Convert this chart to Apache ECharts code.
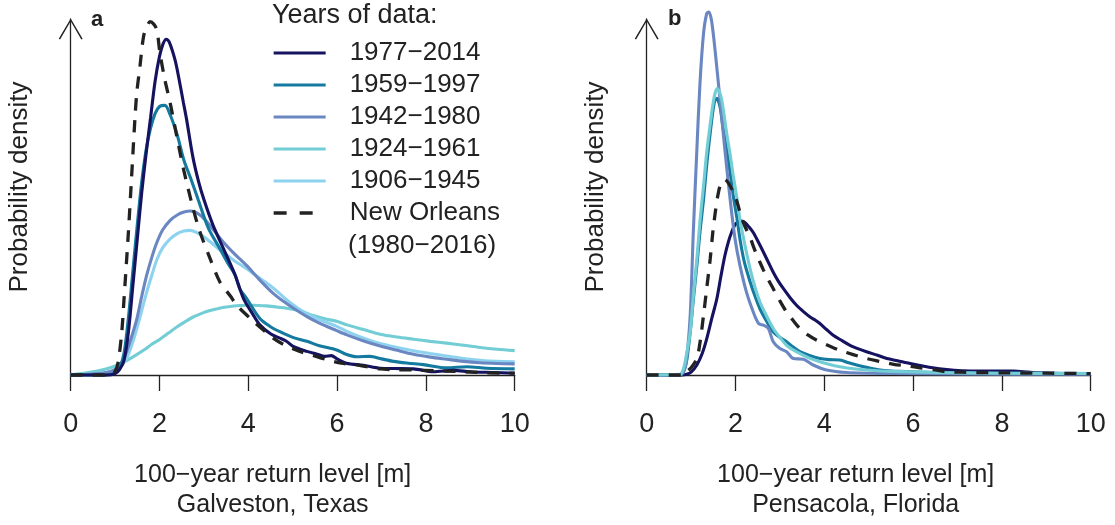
<!DOCTYPE html>
<html>
<head>
<meta charset="utf-8">
<script src="https://cdn.jsdelivr.net/npm/echarts@6/dist/echarts.min.js"></script>
<style>html,body{margin:0;padding:0;background:#fff}#chart{width:1115px;height:525px}</style>
</head>
<body>
<div id="chart"></div>
<script>
// ---- labels ----
const legendNames = ['1977\u22122014', '1959\u22121997', '1942\u22121980', '1924\u22121961', '1906\u22121945', 'New Orleans'];
const legendTitle = 'Years of data:';
const newOrleansYears = '(1980\u22122016)';
const panelLabels = ['a', 'b'];
const xTitles = ['100\u2212year return level [m]\nGalveston, Texas', '100\u2212year return level [m]\nPensacola, Florida'];
const yTitle = 'Probability density';
const xTicks = [0, 2, 4, 6, 8, 10];

// ---- Panel a: Galveston, Texas  [return level (m), density] ----
const galv_1977_2014 = [[0,0],[0.8,0],[1.0,0.004],[1.1,0.015],[1.2,0.04],[1.3,0.12],[1.4,0.25],[1.5,0.38],[1.6,0.51],[1.7,0.62],[1.8,0.72],[1.9,0.82],[2.0,0.89],[2.08,0.925],[2.15,0.938],[2.22,0.93],[2.35,0.88],[2.45,0.82],[2.54,0.76],[2.61,0.714],[2.75,0.61],[2.88,0.54],[3.0,0.49],[3.2,0.42],[3.44,0.353],[3.7,0.28],[3.89,0.214],[4.1,0.17],[4.26,0.14],[4.5,0.115],[4.71,0.103],[4.85,0.095],[5.01,0.08],[5.32,0.066],[5.55,0.058],[5.72,0.052],[5.87,0.054],[6.0,0.045],[6.21,0.033],[6.59,0.027],[6.97,0.019],[7.3,0.018],[7.72,0.017],[8.17,0.009],[8.62,0.013],[9.0,0.009],[9.5,0.007],[10,0.005]];
const galv_1959_1997 = [[0,0],[0.8,0],[1.0,0.006],[1.1,0.02],[1.2,0.06],[1.3,0.16],[1.4,0.29],[1.5,0.42],[1.6,0.54],[1.7,0.63],[1.8,0.69],[1.9,0.73],[2.0,0.75],[2.12,0.753],[2.24,0.727],[2.4,0.67],[2.55,0.6],[2.7,0.55],[2.87,0.49],[3.1,0.41],[3.36,0.353],[3.55,0.31],[3.7,0.28],[3.81,0.24],[3.96,0.214],[4.26,0.158],[4.5,0.135],[4.71,0.121],[5.0,0.105],[5.32,0.094],[5.6,0.082],[5.99,0.07],[6.2,0.058],[6.44,0.051],[6.74,0.052],[7.0,0.045],[7.27,0.038],[7.6,0.033],[7.94,0.029],[8.47,0.02],[8.92,0.023],[9.37,0.019],[10,0.017]];
const galv_1942_1980 = [[0,0],[0.4,0.002],[0.8,0.007],[1.0,0.015],[1.13,0.03],[1.26,0.065],[1.38,0.11],[1.49,0.157],[1.6,0.22],[1.71,0.278],[1.83,0.33],[1.94,0.37],[2.07,0.405],[2.24,0.432],[2.4,0.447],[2.55,0.455],[2.7,0.458],[2.85,0.452],[3.0,0.437],[3.2,0.408],[3.44,0.371],[3.7,0.337],[3.96,0.306],[4.26,0.265],[4.56,0.228],[4.8,0.205],[5.01,0.187],[5.32,0.163],[5.6,0.145],[5.99,0.124],[6.22,0.112],[6.6,0.095],[6.97,0.081],[7.35,0.069],[7.72,0.058],[8.1,0.05],[8.47,0.044],[8.85,0.038],[9.22,0.034],[9.6,0.032],[10,0.031]];
const galv_1924_1961 = [[0,0.001],[0.3,0.005],[0.6,0.011],[0.89,0.02],[1.1,0.03],[1.26,0.04],[1.45,0.054],[1.64,0.069],[1.82,0.085],[2.01,0.1],[2.2,0.117],[2.39,0.134],[2.58,0.149],[2.76,0.162],[2.95,0.172],[3.14,0.18],[3.33,0.186],[3.51,0.19],[3.81,0.194],[4.1,0.195],[4.41,0.193],[4.7,0.189],[4.94,0.185],[5.2,0.178],[5.46,0.166],[5.72,0.157],[5.99,0.15],[6.22,0.14],[6.6,0.127],[6.97,0.114],[7.35,0.106],[7.72,0.1],[8.1,0.094],[8.47,0.089],[8.85,0.083],[9.22,0.077],[9.6,0.072],[10,0.068]];
const galv_1906_1945 = [[0,0],[0.4,0.002],[0.8,0.007],[1.0,0.013],[1.13,0.025],[1.26,0.046],[1.38,0.085],[1.49,0.13],[1.6,0.18],[1.71,0.231],[1.83,0.28],[1.94,0.322],[2.07,0.355],[2.24,0.38],[2.4,0.395],[2.55,0.402],[2.69,0.404],[2.85,0.397],[3.0,0.386],[3.14,0.372],[3.44,0.342],[3.7,0.318],[3.96,0.297],[4.26,0.27],[4.56,0.243],[4.8,0.217],[5.0,0.197],[5.2,0.18],[5.5,0.16],[5.99,0.136],[6.22,0.122],[6.6,0.103],[6.97,0.088],[7.35,0.077],[7.72,0.068],[8.1,0.06],[8.47,0.053],[8.85,0.046],[9.22,0.041],[9.6,0.038],[10,0.037]];
const galv_neworleans = [[0,0],[0.9,0],[1.0,0.01],[1.07,0.037],[1.15,0.12],[1.2,0.21],[1.3,0.4],[1.37,0.55],[1.45,0.723],[1.49,0.79],[1.56,0.862],[1.64,0.945],[1.72,0.975],[1.79,0.987],[1.87,0.98],[1.94,0.964],[2.01,0.9],[2.12,0.825],[2.24,0.76],[2.4,0.66],[2.55,0.57],[2.76,0.464],[2.91,0.4],[3.14,0.325],[3.36,0.26],[3.6,0.22],[3.74,0.195],[4.08,0.154],[4.3,0.13],[4.56,0.103],[4.8,0.085],[5.16,0.066],[5.45,0.055],[5.77,0.043],[6.1,0.033],[6.44,0.028],[6.97,0.017],[7.3,0.015],[7.71,0.014],[8.2,0.012],[8.69,0.01],[9.37,0.006],[10,0.005]];

// ---- Panel b: Pensacola, Florida ----
const pens_1977_2014 = [[0,0],[0.8,0],[0.9,0.002],[1.0,0.008],[1.13,0.028],[1.25,0.06],[1.35,0.1],[1.47,0.16],[1.58,0.213],[1.67,0.275],[1.76,0.333],[1.84,0.372],[1.91,0.398],[1.98,0.418],[2.06,0.428],[2.14,0.43],[2.21,0.426],[2.3,0.414],[2.4,0.398],[2.52,0.37],[2.63,0.343],[2.74,0.315],[2.85,0.287],[2.96,0.263],[3.08,0.241],[3.23,0.216],[3.38,0.194],[3.53,0.177],[3.68,0.162],[3.8,0.153],[3.9,0.144],[4.05,0.127],[4.2,0.111],[4.4,0.096],[4.58,0.083],[4.77,0.073],[4.95,0.065],[5.2,0.055],[5.41,0.046],[5.65,0.04],[5.86,0.034],[6.1,0.028],[6.4,0.021],[6.76,0.015],[7.1,0.012],[7.51,0.011],[7.9,0.011],[8.26,0.011],[8.6,0.008],[8.86,0.006],[9.3,0.004],[10,0.003]];
const pens_1959_1997 = [[0,0],[0.75,0],[0.83,0.009],[0.9,0.04],[0.98,0.12],[1.05,0.21],[1.13,0.306],[1.2,0.4],[1.28,0.49],[1.35,0.585],[1.43,0.676],[1.52,0.76],[1.58,0.773],[1.65,0.75],[1.72,0.69],[1.8,0.63],[1.88,0.565],[1.95,0.5],[2.03,0.44],[2.1,0.38],[2.2,0.315],[2.33,0.26],[2.44,0.22],[2.55,0.185],[2.7,0.15],[2.85,0.12],[3.0,0.105],[3.15,0.093],[3.3,0.078],[3.45,0.065],[3.65,0.055],[3.9,0.046],[4.1,0.043],[4.35,0.042],[4.55,0.034],[4.73,0.028],[5.0,0.02],[5.26,0.014],[5.7,0.01],[6.5,0.007],[8,0.005],[10,0.004]];
const pens_1942_1980 = [[0,0],[0.7,0],[0.79,0.003],[0.85,0.015],[0.9,0.046],[0.98,0.167],[1.05,0.4],[1.13,0.63],[1.2,0.815],[1.28,0.954],[1.35,1.009],[1.4,1.014],[1.46,0.99],[1.54,0.907],[1.65,0.77],[1.76,0.63],[1.88,0.49],[1.99,0.38],[2.1,0.306],[2.25,0.23],[2.4,0.176],[2.52,0.144],[2.63,0.139],[2.74,0.13],[2.85,0.093],[3.0,0.074],[3.15,0.065],[3.3,0.046],[3.53,0.044],[3.75,0.028],[4.05,0.014],[4.5,0.007],[5.5,0.004],[7,0.003],[10,0.002]];
const pens_1924_1961 = [[0,0],[0.75,0.002],[0.83,0.018],[0.9,0.06],[0.98,0.12],[1.05,0.22],[1.13,0.324],[1.2,0.43],[1.28,0.528],[1.35,0.62],[1.43,0.7],[1.49,0.755],[1.54,0.787],[1.59,0.8],[1.64,0.79],[1.69,0.768],[1.75,0.72],[1.8,0.676],[1.88,0.615],[1.95,0.556],[2.03,0.495],[2.1,0.435],[2.2,0.37],[2.33,0.296],[2.44,0.245],[2.55,0.204],[2.7,0.165],[2.85,0.13],[3.0,0.105],[3.15,0.083],[3.3,0.07],[3.45,0.06],[3.65,0.048],[3.9,0.037],[4.1,0.03],[4.35,0.023],[4.6,0.018],[4.95,0.014],[5.5,0.01],[6.5,0.007],[8,0.005],[10,0.004]];
const pens_neworleans = [[0,0],[0.85,0],[0.9,0.009],[1.0,0.02],[1.13,0.046],[1.2,0.09],[1.28,0.167],[1.35,0.24],[1.43,0.324],[1.49,0.4],[1.54,0.45],[1.6,0.5],[1.65,0.528],[1.7,0.54],[1.76,0.546],[1.82,0.54],[1.88,0.528],[1.95,0.51],[2.03,0.485],[2.1,0.455],[2.18,0.425],[2.25,0.405],[2.33,0.385],[2.4,0.36],[2.48,0.335],[2.55,0.315],[2.63,0.293],[2.74,0.266],[2.85,0.241],[3.0,0.207],[3.15,0.176],[3.3,0.152],[3.45,0.13],[3.63,0.112],[3.83,0.097],[4.1,0.082],[4.35,0.069],[4.65,0.057],[4.95,0.046],[5.25,0.038],[5.56,0.03],[5.9,0.025],[6.16,0.02],[6.5,0.014],[6.76,0.009],[7.1,0.008],[7.42,0.007],[8,0.006],[9,0.005],[10,0.004]];

// ---- styling ----
const colors = ['#15125f', '#157a9f', '#6b87c2', '#72cdd5', '#8dd3f0', '#222222'];
const FONT = '"Liberation Sans", Arial, Helvetica, sans-serif';
const INK = '#222222';

function mkSeries(idx, data, gridIdx) {
  const dashed = idx === 5;
  return {
    type: 'line', name: legendNames[idx], data: data,
    xAxisIndex: gridIdx, yAxisIndex: gridIdx,
    symbol: 'none', smooth: 0.3, clip: false, silent: true,
    lineStyle: { color: colors[idx], width: dashed ? 3.3 : 3.1, type: dashed ? [12, 10] : 'solid', cap: 'butt' },
    itemStyle: { color: colors[idx] },
    z: 2 + (dashed ? 5 : 0)
  };
}

const series = [
  mkSeries(3, galv_1924_1961, 0), mkSeries(4, galv_1906_1945, 0), mkSeries(2, galv_1942_1980, 0),
  mkSeries(1, galv_1959_1997, 0), mkSeries(0, galv_1977_2014, 0), mkSeries(5, galv_neworleans, 0),
  mkSeries(0, pens_1977_2014, 1), mkSeries(1, pens_1959_1997, 1), mkSeries(2, pens_1942_1980, 1),
  mkSeries(3, pens_1924_1961, 1), mkSeries(5, pens_neworleans, 1)
];

const arrowPath = 'path://M10,0 L20,17 L18.9,17.6 L10,2.4 L1.1,17.6 L0,17 Z';

function mkX(i, shift) {
  return {
    type: 'value', gridIndex: i, min: 0, max: 10, interval: 2,
    axisLine: { show: true, onZero: false, lineStyle: { color: INK, width: 1.3 } },
    axisTick: { show: true, inside: false, length: 16, lineStyle: { color: INK, width: 1.3 } },
    axisLabel: { show: true, fontSize: 27, color: INK, fontFamily: FONT, margin: 36,
      formatter: v => (xTicks.indexOf(v) >= 0 ? String(v) : '') },
    splitLine: { show: false },
    name: xTitles[i], nameLocation: 'middle', nameGap: 85,
    nameTextStyle: { fontSize: 25, color: INK, fontFamily: FONT, lineHeight: 30, padding: [0, shift, 0, 0] }
  };
}
function mkY(i) {
  return {
    type: 'value', gridIndex: i, min: 0, max: 0.9944,
    axisLine: { show: true, symbol: ['none', arrowPath], symbolSize: [25, 21], symbolOffset: [0, -10],
      lineStyle: { color: INK, width: 1.3 } },
    axisTick: { show: false }, axisLabel: { show: false }, splitLine: { show: false },
    name: yTitle, nameLocation: 'middle', nameGap: 38,
    nameTextStyle: { fontSize: 26, color: INK, fontFamily: FONT, padding: [0, 0, 0, 20] }
  };
}

const option = {
  animation: false,
  backgroundColor: '#ffffff',
  textStyle: { fontFamily: FONT },
  title: [
    { text: panelLabels[0], left: 91, top: 9, padding: 0, textStyle: { fontSize: 22, fontWeight: 'bold', color: INK, fontFamily: FONT } },
    { text: panelLabels[1], left: 668, top: 8, padding: 0, textStyle: { fontSize: 22, fontWeight: 'bold', color: INK, fontFamily: FONT } },
    { text: legendTitle, left: 272, top: 2, padding: 0, textStyle: { fontSize: 27, fontWeight: 'normal', color: INK, fontFamily: FONT } },
    { text: newOrleansYears, left: 348, top: 233, padding: 0, textStyle: { fontSize: 26, fontWeight: 'normal', color: INK, fontFamily: FONT } }
  ],
  legend: {
    orient: 'vertical', left: 272, top: 37, padding: 0, itemGap: 0,
    itemWidth: 52, itemHeight: 16, selectedMode: false,
    itemStyle: { opacity: 0, borderWidth: 0 },
    lineStyle: { width: 3 },
    textStyle: { fontSize: 26, color: INK, fontFamily: FONT, lineHeight: 32, padding: [0, 0, 0, 19] },
    data: legendNames.map((n, i) => i === 5
      ? { name: n, lineStyle: { width: 3.3, type: [13, 13] } }
      : { name: n })
  },
  grid: [
    { left: 70.7, top: 19, width: 444, height: 358 },
    { left: 646.7, top: 19, width: 444, height: 358 }
  ],
  xAxis: [mkX(0, 40), mkX(1, 26)],
  yAxis: [mkY(0), mkY(1)],
  series: series
};

const chart = echarts.init(document.getElementById('chart'), null, { renderer: 'canvas' });
chart.setOption(option);
</script>
</body>
</html>
